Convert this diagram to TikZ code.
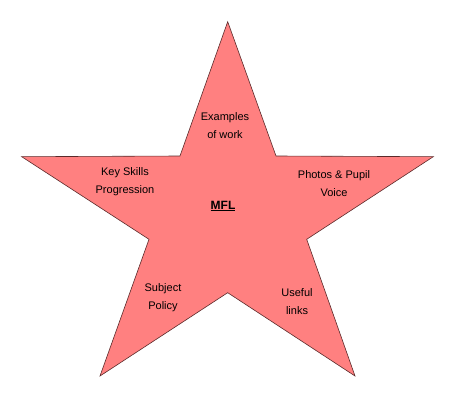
\documentclass[tikz,border=0pt]{standalone}
\usepackage{fontspec}
\setmainfont{Liberation Sans}
\definecolor{starfill}{HTML}{FF8080}
\definecolor{starline}{HTML}{5A2A2A}
\begin{document}
\begin{tikzpicture}[x=1pt,y=-1pt,
  lbl/.style={align=center,font=\fontsize{11}{18}\selectfont,text=black,inner sep=0pt}]
\useasboundingbox (0,0) rectangle (474,417);
\coordinate (T) at (227.7,21.7);
\coordinate (IUR) at (276,156);
\coordinate (R) at (433.3,156.7);
\coordinate (IR) at (306.7,239.3);
\coordinate (BR) at (355,376);
\coordinate (IB) at (227.7,292.7);
\coordinate (BL) at (100,376);
\coordinate (IL) at (149,239.3);
\coordinate (L) at (21.7,156.7);
\coordinate (IUL) at (180,156);
\draw[fill=starfill,draw=starline,line width=0.6pt,line join=miter]
  (T) -- (IUR) -- (R) -- (IR) -- (BR) -- (IB) -- (BL) -- (IL) -- (L) -- (IUL) -- cycle;
\node[lbl] (ex) at (225,126) {Examples\\of work};
\node[lbl] (ks) at (125,182) {Key Skills\\Progression};
\node[lbl] (ph) at (334,184) {Photos \& Pupil\\Voice};
\node[lbl,font=\fontsize{12}{18}\selectfont\bfseries] (mfl) at (223,206) {\underline{MFL}};
\node[lbl] (sp) at (163,298) {Subject\\Policy};
\node[lbl] (ul) at (297,302) {Useful\\links};
\end{tikzpicture}
\end{document}
